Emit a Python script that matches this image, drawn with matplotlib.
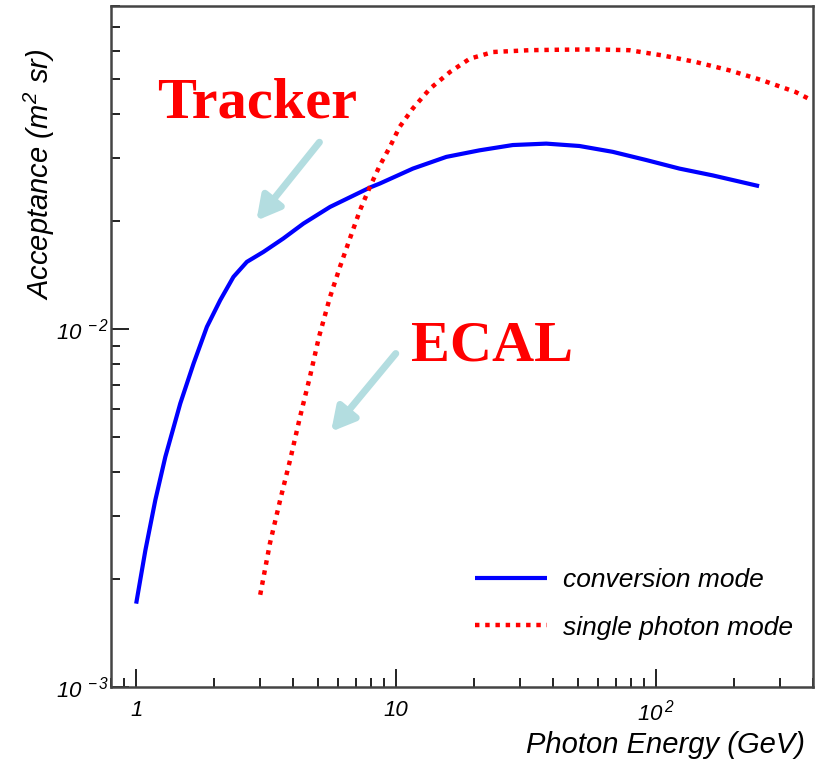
import numpy as np
import matplotlib
matplotlib.use("Agg")
import matplotlib.pyplot as plt
from matplotlib.ticker import LogLocator, FuncFormatter, NullFormatter

# italic Helvetica-like look for all text, including mathtext
plt.rcParams['font.family'] = ['Liberation Sans', 'DejaVu Sans']
plt.rcParams['font.style'] = 'italic'
plt.rcParams['mathtext.fontset'] = 'custom'
plt.rcParams['mathtext.rm'] = 'Liberation Sans:italic'
plt.rcParams['mathtext.it'] = 'Liberation Sans:italic'
plt.rcParams['mathtext.bf'] = 'Liberation Sans:bold:italic'

# conversion mode (tracker)
conv_energy = [1.00, 1.085, 1.185, 1.295, 1.478, 1.663, 1.871, 2.105, 2.367,
               2.666, 3.087, 3.68, 4.40, 5.57, 7.93, 8.66, 11.6, 15.6, 20.9,
               28.1, 37.8, 50.7, 68.1, 91.5, 123, 165, 249]
conv_accept = [0.00171, 0.00241, 0.00333, 0.00440, 0.0062, 0.00802, 0.01015,
               0.01205, 0.0140, 0.01542, 0.01644, 0.01792, 0.01973, 0.02196,
               0.02488, 0.02553, 0.0281, 0.0303, 0.0316, 0.0327, 0.0330,
               0.0325, 0.0313, 0.0297, 0.0281, 0.0269, 0.0251]

# single photon mode (ECAL)
single_energy = [3.00, 3.27, 3.58, 3.91, 4.27, 4.66, 5.05, 5.57, 6.08, 6.64,
                 7.26, 7.93, 8.66, 9.46, 10.3, 11.6, 13.5, 16.1, 19.2, 23.6,
                 32.6, 43.8, 58.8, 78.9, 106, 142, 191, 256, 344, 397]
single_accept = [0.00181, 0.00252, 0.00333, 0.00431, 0.00569, 0.00736,
                 0.00952, 0.01231, 0.01493, 0.01792, 0.0215, 0.0250, 0.0287,
                 0.0323, 0.0367, 0.0414, 0.0470, 0.0523, 0.0570, 0.0595,
                 0.0602, 0.0604, 0.0605, 0.0602, 0.0582, 0.0558, 0.0529,
                 0.0496, 0.0460, 0.0436]

x_labels = {1: '1', 10: '10', 100: r'$10^{\,2}$'}
y_labels = {1e-3: r'$10^{\;-3}$', 1e-2: r'$10^{\;-2}$'}

fig = plt.figure(figsize=(8.19, 7.69), dpi=100)
ax = fig.add_axes([0.1355, 0.1066, 0.8567, 0.8856])

ax.plot(conv_energy, conv_accept, color='#0000ff', lw=3.0,
        solid_capstyle='butt', solid_joinstyle='round',
        label='conversion mode')
ax.plot(single_energy, single_accept, color='#ff0000', lw=3.2,
        linestyle=(0, (1, 1.3)), label='single photon mode')

ax.set_xscale('log')
ax.set_yscale('log')
ax.set_xlim(0.8, 400)
ax.set_ylim(1e-3, 0.08)

ax.xaxis.set_major_locator(LogLocator(base=10, subs=[1.0]))
ax.xaxis.set_minor_locator(LogLocator(base=10, subs=np.arange(2, 10)))
ax.yaxis.set_major_locator(LogLocator(base=10, subs=[1.0]))
ax.yaxis.set_minor_locator(LogLocator(base=10, subs=np.arange(2, 10)))
ax.xaxis.set_major_formatter(FuncFormatter(
    lambda v, p: x_labels.get(int(round(v)), '')))
ax.yaxis.set_major_formatter(FuncFormatter(
    lambda v, p: y_labels.get(float('%.0e' % v), '')))
ax.xaxis.set_minor_formatter(NullFormatter())
ax.yaxis.set_minor_formatter(NullFormatter())

ax.tick_params(which='both', direction='in', top=False, right=False,
               color='#222222', width=1.4, labelsize=16)
ax.tick_params(which='major', length=13)
ax.tick_params(which='minor', length=6.5)
ax.tick_params(axis='x', pad=9)
ax.tick_params(axis='y', pad=1)

for s in ax.spines.values():
    s.set_color('#444444')
    s.set_linewidth(1.8)

ax.set_xlabel('Photon Energy (GeV)', fontsize=21, loc='right', va='center')
ax.xaxis.set_label_coords(0.989, -0.085)
ax.set_ylabel(r'Acceptance ($m^{2}$ sr)', fontsize=21, loc='top', va='center')
ax.yaxis.set_label_coords(-0.1026, 0.937)

ax.legend(loc='upper left', bbox_to_anchor=(0.5185, 0.1746), frameon=False,
          fontsize=19, handlelength=2.73, handletextpad=0.6,
          labelspacing=0.89, borderpad=0, borderaxespad=0)

# annotations
arrow_color = '#b3dde0'
arrow_props = dict(arrowstyle='-|>,head_length=0.7,head_width=0.38',
                   mutation_scale=20, lw=5, color=arrow_color,
                   shrinkA=0, shrinkB=0)
ax.annotate('', xy=(2.90, 0.0201), xytext=(5.07, 0.0333),
            arrowprops=arrow_props)
ax.annotate('', xy=(5.62, 0.00517), xytext=(9.97, 0.00855),
            arrowprops=arrow_props)

ax.text(1.20, 0.0391, 'Tracker', color='#ff0000', fontsize=42,
        fontweight='bold', fontstyle='normal', family='Liberation Serif',
        va='baseline', ha='left')
ax.text(11.4, 0.0082, 'ECAL', color='#ff0000', fontsize=42,
        fontweight='bold', fontstyle='normal', family='Liberation Serif',
        va='baseline', ha='left')

fig.savefig('out.png', dpi=100)
